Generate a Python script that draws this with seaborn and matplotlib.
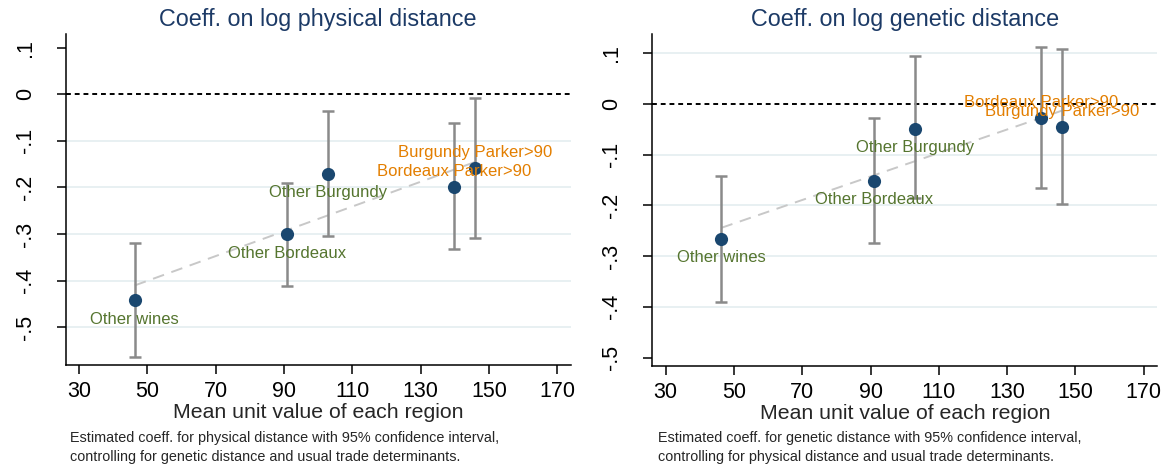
import numpy as np
import pandas as pd
import seaborn as sns
from matplotlib import pyplot as plt

# mean unit value of each region (x) and estimated coefficients with 95% CI
regions = ["Other wines", "Other Bordeaux", "Other Burgundy",
           "Bordeaux Parker>90", "Burgundy Parker>90"]
unit_value = [46.3, 91.0, 102.9, 139.9, 146.0]

phys_coef = [-0.442, -0.300, -0.170, -0.198, -0.158]
phys_lo = [-0.564, -0.412, -0.304, -0.333, -0.309]
phys_hi = [-0.319, -0.191, -0.036, -0.062, -0.008]

gen_coef = [-0.266, -0.151, -0.049, -0.027, -0.045]
gen_lo = [-0.391, -0.275, -0.185, -0.165, -0.197]
gen_hi = [-0.142, -0.028, 0.094, 0.113, 0.109]

x_ticks = [30, 50, 70, 90, 110, 130, 150, 170]
y_ticks = [0.1, 0, -0.1, -0.2, -0.3, -0.4, -0.5]
y_ticklabels = [".1", "0", "-.1", "-.2", "-.3", "-.4", "-.5"]

titles = ["Coeff. on log physical distance", "Coeff. on log genetic distance"]
notes = ["Estimated coeff. for physical distance with 95% confidence interval,\n"
         "controlling for genetic distance and usual trade determinants.",
         "Estimated coeff. for genetic distance with 95% confidence interval,\n"
         "controlling for physical distance and usual trade determinants."]

sns.set_style("white")
plt.rcParams['font.family'] = ['Liberation Sans', 'DejaVu Sans']

navy = "#1a476f"
title_col = "#1c3a66"
green = "#55752f"
orange = "#e37e00"
grid_col = "#e6eff1"

fig = plt.figure(figsize=(11.69, 4.68), dpi=100)
axes = [fig.add_axes([0.0562, 0.2201, 0.4320, 0.7066]),
        fig.add_axes([0.5580, 0.2186, 0.4320, 0.7081])]
ylims = [(-0.581, 0.1288), (-0.516, 0.1375)]
grids = [[-0.1, -0.2, -0.3, -0.4, -0.5], [0.1, -0.1, -0.2, -0.3, -0.4]]
note_x = [70, 658]

for i, (coef, lo, hi) in enumerate([(phys_coef, phys_lo, phys_hi),
                                     (gen_coef, gen_lo, gen_hi)]):
    ax = axes[i]
    df = pd.DataFrame({"region": regions, "value": unit_value,
                       "coef": coef, "lo": lo, "hi": hi})
    for g in grids[i]:
        ax.axhline(g, color=grid_col, lw=1.3, zorder=0)
    ax.axhline(0, color="black", lw=1.4, ls=(0, (2.5, 2)), zorder=1)

    sns.regplot(data=df, x="value", y="coef", ax=ax, scatter=False, ci=None,
                line_kws=dict(color="#c8c8c8", lw=1.4, ls=(0, (6, 4)), zorder=2))
    ax.errorbar(df["value"], df["coef"],
                yerr=[df["coef"] - df["lo"], df["hi"] - df["coef"]],
                fmt="none", ecolor="#8a8a8a", elinewidth=1.8,
                capsize=4.5, capthick=1.8, zorder=3)
    sns.scatterplot(data=df, x="value", y="coef", ax=ax, s=90, color=navy,
                    edgecolor=navy, linewidth=0, zorder=4)

    for _, r in df.iterrows():
        if r["region"].startswith("Other"):
            ax.annotate(r["region"], (r["value"], r["coef"]), xytext=(0, -19),
                        textcoords="offset pixels", ha="center", va="center",
                        color=green, fontsize=12, zorder=5)
        else:
            ax.annotate(r["region"], (r["value"], r["coef"]), xytext=(0, 15),
                        textcoords="offset pixels", ha="center", va="center",
                        color=orange, fontsize=12, zorder=5)

    ax.set_xlim(26.07, 173.98)
    ax.set_ylim(*ylims[i])
    ax.set_xticks(x_ticks)
    ax.set_yticks(y_ticks)
    ax.set_yticklabels(y_ticklabels, rotation=90, va="center")
    ax.tick_params(axis="both", direction="out", length=6.5, width=1.1,
                   colors="black", labelsize=15.5, left=True, bottom=True)
    ax.tick_params(axis="x", pad=5)
    ax.tick_params(axis="y", pad=15)
    for s in ["top", "right"]:
        ax.spines[s].set_visible(False)
    for s in ["left", "bottom"]:
        ax.spines[s].set_color("black")
        ax.spines[s].set_linewidth(1.1)
    ax.set_xlabel("Mean unit value of each region", fontsize=15.3, labelpad=1)
    ax.set_ylabel("")
    ax.set_title(titles[i], fontsize=16.8, color=title_col, pad=6)
    fig.text(note_x[i] / 1169, 1 - 447.5 / 468, notes[i], fontsize=10.4,
             ha="left", va="center", linespacing=1.4)

fig.savefig("out.png", dpi=100)
